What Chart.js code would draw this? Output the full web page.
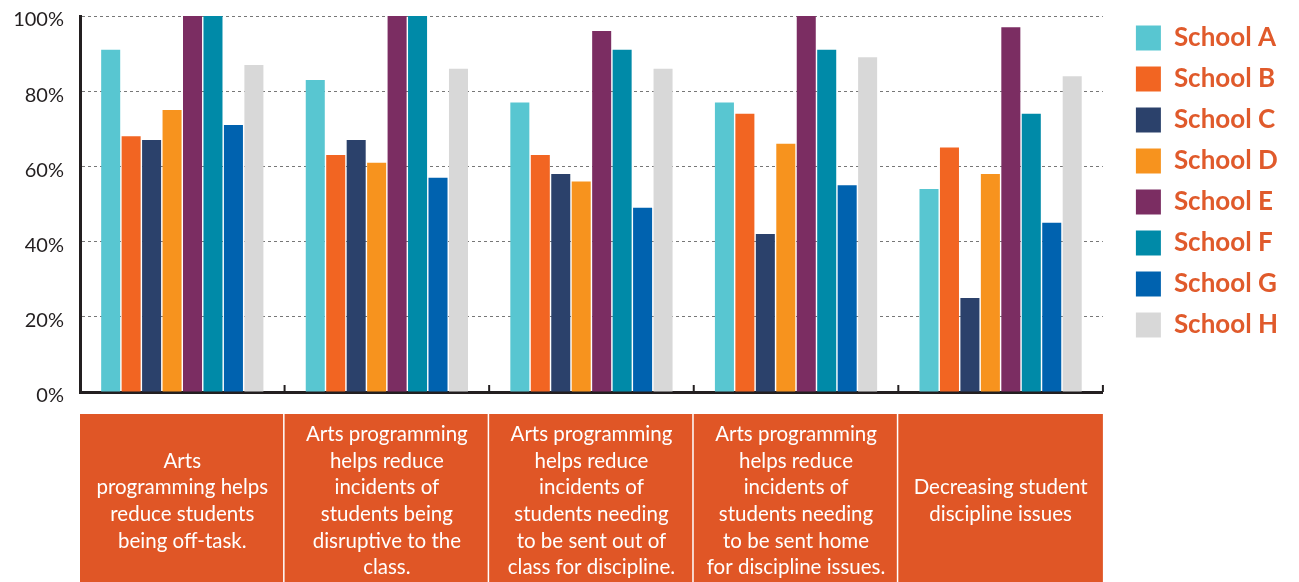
<!DOCTYPE html>
<html>
<head>
<meta charset="utf-8">
<script src="https://cdn.jsdelivr.net/npm/chart.js@4.4.1/dist/chart.umd.min.js"></script>
<style>
  html, body { margin: 0; padding: 0; background: #fff; }
  #wrap { width: 1299px; height: 582px; }
</style>
</head>
<body>
<div id="wrap"><canvas id="bar"></canvas></div>
<script>
const categories = [
  ['Arts', 'programming helps', 'reduce students', 'being off-task.'],
  ['Arts programming', 'helps reduce', 'incidents of', 'students being', 'disruptive to the', 'class.'],
  ['Arts programming', 'helps reduce', 'incidents of', 'students needing', 'to be sent out of', 'class for discipline.'],
  ['Arts programming', 'helps reduce', 'incidents of', 'students needing', 'to be sent home', 'for discipline issues.'],
  ['Decreasing student', 'discipline issues']
];
const schools = ['School A', 'School B', 'School C', 'School D', 'School E', 'School F', 'School G', 'School H'];
const colors = ['#58C6D1', '#F26522', '#2B416B', '#F7931E', '#7B2D62', '#008AA8', '#0062AF', '#D8D8D8'];

const schoolA = [91, 83, 77, 77, 54];
const schoolB = [68, 63, 63, 74, 65];
const schoolC = [67, 67, 58, 42, 25];
const schoolD = [75, 61, 56, 66, 58];
const schoolE = [100, 100, 96, 100, 97];
const schoolF = [100, 100, 91, 91, 74];
const schoolG = [71, 57, 49, 55, 45];
const schoolH = [87, 86, 86, 89, 84];
const values = [schoolA, schoolB, schoolC, schoolD, schoolE, schoolF, schoolG, schoolH];

const yTicks = [0, 20, 40, 60, 80, 100];

const boxColor = '#E05626';
const inkColor = '#231F20';

// orange category boxes under the axis, plus the small boundary ticks
const categoryBoxes = {
  id: 'categoryBoxes',
  afterLayout(chart) {
    chart.legend.left += 18;
    chart.legend.right += 18;
    chart.legend.top -= 6;
  },
  afterDraw(chart) {
    const ctx = chart.ctx;
    const x = chart.scales.x;
    const area = chart.chartArea;
    const half = (x.getPixelForValue(1) - x.getPixelForValue(0)) / 2;
    const top = area.bottom + 22;
    const bottom = chart.height + 10;
    ctx.save();
    ctx.strokeStyle = inkColor;
    ctx.lineWidth = 2;
    for (let i = 0; i <= categories.length; i++) {
      const bx = x.getPixelForValue(i) - half;
      ctx.beginPath();
      ctx.moveTo(bx, area.bottom);
      ctx.lineTo(bx, area.bottom - 7);
      ctx.stroke();
    }
    categories.forEach((lines, i) => {
      const c = x.getPixelForValue(i);
      const left = c - half, right = c + half;
      ctx.fillStyle = boxColor;
      ctx.fillRect(left, top, right - left, bottom - top);
      ctx.fillStyle = '#fff';
      if (i < categories.length - 1) ctx.fillRect(right - 1.5, top, 3, bottom - top);
      ctx.font = '20.5px Lato';
      ctx.textAlign = 'center';
      ctx.textBaseline = 'middle';
      const lh = 26.6;
      const mid = 501;
      lines.forEach((t, j) => {
        ctx.fillText(t, c, mid + (j - (lines.length - 1) / 2) * lh);
      });
    });
    ctx.restore();
  }
};

const chart = new Chart(document.getElementById('bar'), {
  type: 'bar',
  data: {
    labels: categories,
    datasets: schools.map((name, i) => ({
      label: name,
      data: values[i],
      backgroundColor: colors[i],
      borderWidth: 0,
      categoryPercentage: 0.8,
      barPercentage: 0.93
    }))
  },
  options: {
    responsive: true,
    maintainAspectRatio: false,
    animation: false,
    layout: { padding: { top: 16, right: 29, bottom: 190, left: 0 } },
    plugins: {
      tooltip: { enabled: false },
      legend: {
        position: 'right',
        align: 'start',
        labels: {
          boxWidth: 25,
          boxHeight: 25,
          padding: 15,
          color: '#E05A2B',
          font: { family: 'Lato', size: 26, weight: 'bold', lineHeight: 1 }
        }
      }
    },
    scales: {
      x: {
        grid: { display: false },
        ticks: { display: false },
        border: { display: true, color: inkColor, width: 3 },
        afterFit(scale) { scale.height = 0; scale.paddingLeft = 0; scale.paddingRight = 0; }
      },
      y: {
        min: 0,
        max: 100,
        afterBuildTicks(scale) {
          scale.ticks = yTicks.map(v => ({ value: v }));
        },
        ticks: {
          padding: 16,
          labelOffset: 4,
          color: inkColor,
          font: { family: 'Lato', size: 20 },
          callback: v => v + '%'
        },
        grid: { color: '#777', lineWidth: 1, drawTicks: false },
        border: { display: true, color: inkColor, width: 3, dash: [3, 3] },
        afterFit(scale) { scale.width = 80; scale.paddingTop = 0; scale.paddingBottom = 0; }
      }
    }
  },
  plugins: [categoryBoxes]
});
</script>
</body>
</html>
